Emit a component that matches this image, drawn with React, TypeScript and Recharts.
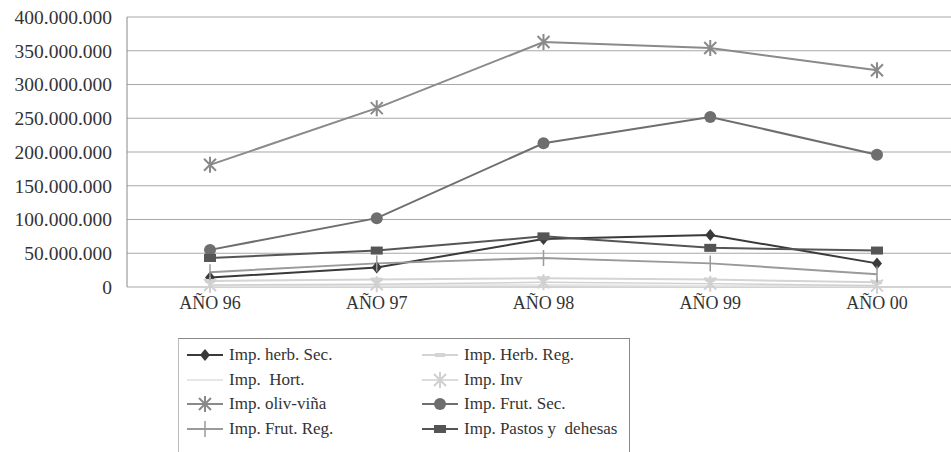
import React from 'react';
import { LineChart, Line, XAxis, YAxis, CartesianGrid } from 'recharts';

const years = ['AÑO 96', 'AÑO 97', 'AÑO 98', 'AÑO 99', 'AÑO 00'];

const herbSec = [14000000, 29000000, 71000000, 77000000, 35000000];
const herbReg = [9000000, 11000000, 13000000, 11000000, 7000000];
const hort = [2000000, 2000000, 3000000, 2000000, 2000000];
const inv = [3000000, 4000000, 7000000, 5000000, 2000000];
const olivVina = [181000000, 265000000, 363000000, 354000000, 321000000];
const frutSec = [55000000, 102000000, 213000000, 252000000, 196000000];
const frutReg = [22000000, 35000000, 43000000, 35000000, 19000000];
const pastos = [43000000, 54000000, 75000000, 58000000, 54000000];

const yTicks = [0, 50000000, 100000000, 150000000, 200000000, 250000000, 300000000, 350000000, 400000000];

const FONT = "'Liberation Serif', 'Times New Roman', Times, 'DejaVu Serif', serif";

type Shape = 'diamond' | 'dash' | 'none' | 'star' | 'circle' | 'plus' | 'square';

const series: { key: string; name: string; values: number[]; color: string; shape: Shape; width: number }[] = [
  { key: 'herbSec', name: 'Imp. herb. Sec.', values: herbSec, color: '#3a3a3a', shape: 'diamond', width: 2 },
  { key: 'herbReg', name: 'Imp. Herb. Reg.', values: herbReg, color: '#d4d4d4', shape: 'dash', width: 2 },
  { key: 'hort', name: 'Imp.  Hort.', values: hort, color: '#e6e6e6', shape: 'none', width: 2 },
  { key: 'inv', name: 'Imp. Inv', values: inv, color: '#d0d0d0', shape: 'star', width: 1.5 },
  { key: 'olivVina', name: 'Imp. oliv-viña', values: olivVina, color: '#8a8a8a', shape: 'star', width: 2 },
  { key: 'frutSec', name: 'Imp. Frut. Sec.', values: frutSec, color: '#6e6e6e', shape: 'circle', width: 2 },
  { key: 'frutReg', name: 'Imp. Frut. Reg.', values: frutReg, color: '#9a9a9a', shape: 'plus', width: 2 },
  { key: 'pastos', name: 'Imp. Pastos y  dehesas', values: pastos, color: '#555555', shape: 'square', width: 2 },
];

const data = years.map((y, i) => {
  const row: Record<string, string | number> = { year: y };
  series.forEach((s) => { row[s.key] = s.values[i]; });
  return row;
});

const fmt = (v: number) => (v === 0 ? '0' : v.toLocaleString('de-DE'));

const Marker = ({ cx, cy, shape, color }: { cx: number; cy: number; shape: Shape; color: string }) => {
  if (cx == null || cy == null) return null;
  switch (shape) {
    case 'diamond':
      return <path d={`M${cx},${cy - 6} L${cx + 5},${cy} L${cx},${cy + 6} L${cx - 5},${cy} Z`} fill={color} />;
    case 'circle':
      return <circle cx={cx} cy={cy} r={6} fill={color} />;
    case 'square':
      return <rect x={cx - 6} y={cy - 4} width={12} height={8} fill={color} />;
    case 'plus':
      return <path d={`M${cx},${cy - 8} V${cy + 8}`} stroke={color} strokeWidth={1.5} />;
    case 'dash':
      return <rect x={cx - 5} y={cy - 2} width={10} height={4} fill={color} />;
    case 'star':
      return (
        <g stroke={color} strokeWidth={2}>
          <path d={`M${cx - 6},${cy - 6} L${cx + 6},${cy + 6} M${cx + 6},${cy - 6} L${cx - 6},${cy + 6} M${cx},${cy - 8} V${cy + 8}`} />
        </g>
      );
    default:
      return null;
  }
};

const LegendBox = () => (
  <div style={{ position: 'absolute', left: 178, top: 338, width: 450, height: 120, borderTop: '1px solid #888', borderLeft: '1px solid #bbb', borderRight: '1px solid #888', background: '#fff' }}>
    {series.map((s, i) => {
      const col = i % 2;
      const row = Math.floor(i / 2);
      return (
        <div key={s.key} style={{ position: 'absolute', left: col === 0 ? 8 : 243, top: 5 + row * 24.5, display: 'flex', alignItems: 'center', height: 22 }}>
          <svg width={36} height={20}>
            <line x1={0} y1={10} x2={36} y2={10} stroke={s.color} strokeWidth={s.width} />
            <Marker cx={18} cy={10} shape={s.shape} color={s.color} />
          </svg>
          <span style={{ marginLeft: 6, fontFamily: FONT, fontSize: 17, color: '#333', whiteSpace: 'pre' }}>{s.name}</span>
        </div>
      );
    })}
  </div>
);

export default function App() {
  return (
    <div style={{ position: 'absolute', left: 0, top: 0, width: 951, height: 452, overflow: 'hidden', background: '#fff', fontFamily: FONT }}>
      <LineChart width={980} height={452} data={data} margin={{ top: 17, right: 20, left: 0, bottom: 0 }} style={{ fontFamily: FONT }}>
        <CartesianGrid vertical={false} stroke="#a8a8a8" strokeWidth={1.2} />
        <XAxis
          dataKey="year"
          height={165}
          padding={{ left: 83, right: 83 }}
          axisLine={false}
          tickLine={false}
          tick={{ fill: '#333', fontSize: 18, fontFamily: FONT }}
          tickMargin={3}
        />
        <YAxis
          width={127}
          domain={[0, 400000000]}
          ticks={yTicks}
          tickFormatter={fmt}
          axisLine={{ stroke: '#888' }}
          tickLine={false}
          tickMargin={9}
          tick={{ fill: '#333', fontSize: 19.5, fontFamily: FONT }}
        />
        {series.map((s) => (
          <Line
            key={s.key}
            dataKey={s.key}
            name={s.name}
            type="linear"
            stroke={s.color}
            strokeWidth={s.width}
            isAnimationActive={false}
            dot={(p: any) => <Marker key={`${s.key}-${p.index}`} cx={p.cx} cy={p.cy} shape={s.shape} color={s.color} />}
            activeDot={false}
          />
        ))}
      </LineChart>
      <LegendBox />
    </div>
  );
}
